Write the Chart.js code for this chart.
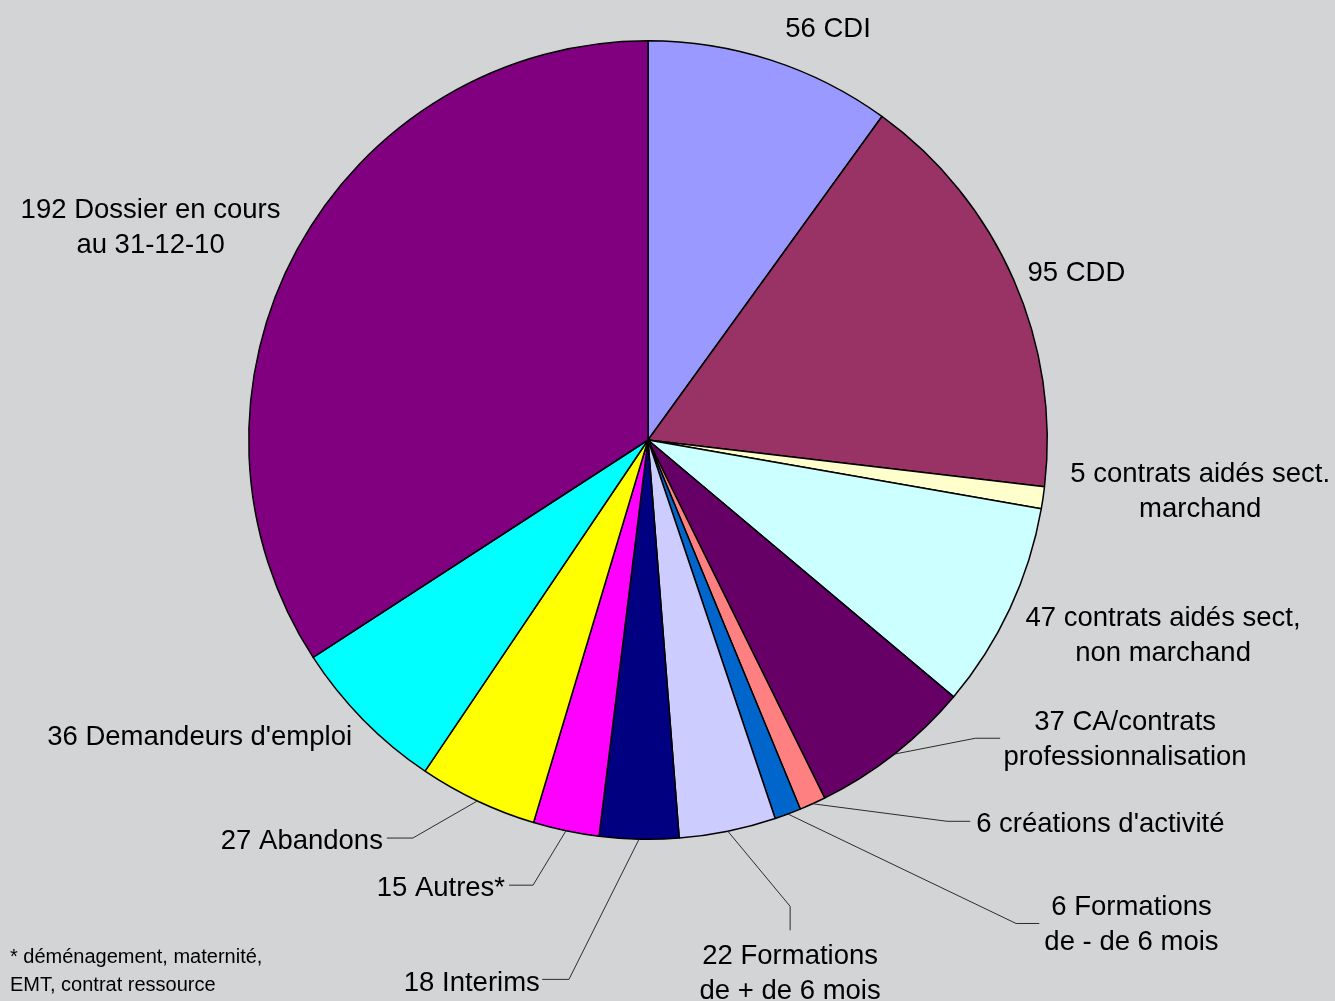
<!DOCTYPE html>
<html>
<head>
<meta charset="utf-8">
<script src="https://cdn.jsdelivr.net/npm/chart.js@4/dist/chart.umd.min.js"></script>
<style>
  html, body { margin: 0; padding: 0; background: #d3d4d6; }
  #wrap { width: 1335px; height: 1001px; position: relative; }
</style>
</head>
<body>
<div id="wrap"><canvas id="pieChart" width="1335" height="1001"></canvas></div>
<script>
// data
const categories = [
  "CDI", "CDD", "contrats aidés sect. marchand", "contrats aidés sect, non marchand",
  "CA/contrats professionnalisation", "créations d'activité", "Formations de - de 6 mois",
  "Formations de + de 6 mois", "Interims", "Autres*", "Abandons",
  "Demandeurs d'emploi", "Dossier en cours au 31-12-10"
];
const counts = [56, 95, 5, 47, 37, 6, 6, 22, 18, 15, 27, 36, 192];
const labelLines = [
  ["56 CDI"],
  ["95 CDD"],
  ["5 contrats aidés sect.", "marchand"],
  ["47 contrats aidés sect,", "non marchand"],
  ["37 CA/contrats", "professionnalisation"],
  ["6 créations d'activité"],
  ["6 Formations", "de - de 6 mois"],
  ["22 Formations", "de + de 6 mois"],
  ["18 Interims"],
  ["15 Autres*"],
  ["27 Abandons"],
  ["36 Demandeurs d'emploi"],
  ["192 Dossier en cours", "au 31-12-10"]
];
const footnote = ["* déménagement, maternité,", "EMT, contrat ressource"];

// styles
const sliceColors = [
  "#9999ff", "#993366", "#ffffcc", "#ccffff", "#660066", "#ff8080", "#0066cc",
  "#ccccff", "#000080", "#ff00ff", "#ffff00", "#00ffff", "#800080"
];

// label placement, in units of the pie radius from its centre
// at = text anchor, elbow/end = leader line bend and end (optional)
const labelPlacement = [
  { at: [0.451, -1.033], align: "center" },
  { at: [1.073, -0.421], align: "center" },
  { at: [1.383, 0.080], align: "center" },
  { at: [1.290, 0.441], align: "center" },
  { at: [1.195, 0.702], align: "center", elbow: [0.820, 0.747], end: [0.882, 0.747] },
  { at: [0.822, 0.957], align: "left", elbow: [0.749, 0.955], end: [0.807, 0.955] },
  { at: [1.211, 1.165], align: "center", elbow: [0.922, 1.211], end: [0.980, 1.211] },
  { at: [0.356, 1.288], align: "center", elbow: [0.356, 1.168], end: [0.356, 1.228] },
  { at: [-0.271, 1.356], align: "right", elbow: [-0.198, 1.351], end: [-0.265, 1.351] },
  { at: [-0.358, 1.118], align: "right", elbow: [-0.288, 1.115], end: [-0.348, 1.115] },
  { at: [-0.664, 1.000], align: "right", elbow: [-0.589, 0.997], end: [-0.654, 0.997] },
  { at: [-1.123, 0.739], align: "center" },
  { at: [-1.246, -0.581], align: "center" }
];

const FONT = '27.5px "Liberation Sans", Arial, sans-serif';
const LINE_H = 35;
const TEXT_DY = 2; // middle baseline sits a little high

//draw outside labels and leader lines
const outsideLabels = {
  id: "outsideLabels",
  afterDraw(chart) {
    const ctx = chart.ctx;
    const arcs = chart.getDatasetMeta(0).data;
    ctx.save();
    arcs.forEach((arc, i) => {
      const p = labelPlacement[i];
      const cx = arc.x, cy = arc.y, r = arc.outerRadius;
      const mid = (arc.startAngle + arc.endAngle) / 2;
      if (p.elbow) {
        ctx.beginPath();
        ctx.strokeStyle = "#2b2b2b";
        ctx.lineWidth = 1;
        ctx.moveTo(cx + Math.cos(mid) * r, cy + Math.sin(mid) * r);
        ctx.lineTo(cx + p.elbow[0] * r, cy + p.elbow[1] * r);
        ctx.lineTo(cx + p.end[0] * r, cy + p.end[1] * r);
        ctx.stroke();
      }
      ctx.fillStyle = "#000";
      ctx.font = FONT;
      ctx.textAlign = p.align;
      ctx.textBaseline = "middle";
      labelLines[i].forEach((line, k) => {
        ctx.fillText(line, cx + p.at[0] * r, cy + p.at[1] * r + k * LINE_H + TEXT_DY);
      });
    });
    // footnote bottom left
    ctx.font = '20px "Liberation Sans", Arial, sans-serif';
    ctx.textAlign = "left";
    footnote.forEach((line, k) => {
      ctx.fillText(line, 10, 957 + k * 28);
    });
    ctx.restore();
  },
};

const pie = new Chart(document.getElementById("pieChart"), {
  type: "pie",
  data: {
    labels: categories,
    datasets: [
      {
        data: counts,
        backgroundColor: sliceColors,
        borderColor: "#000",
        borderWidth: 1.5,
      },
    ],
  },
  options: {
    responsive: false,
    animation: false,
    layout: {
      padding: { left: 248, top: 40, right: 287, bottom: 161 },
    },
    plugins: {
      legend: { display: false },
      tooltip: { enabled: false },
    },
  },
  plugins: [outsideLabels],
});
</script>
</body>
</html>
